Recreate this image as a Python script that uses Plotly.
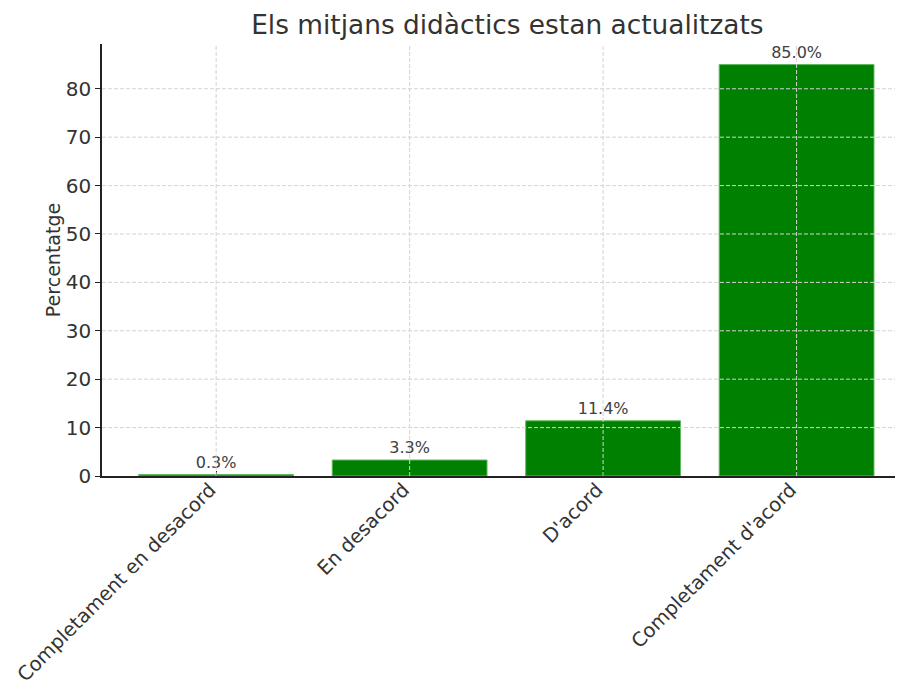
import plotly.graph_objects as go

categories = ["Completament en desacord", "En desacord", "D'acord", "Completament d'acord"]
percentages = [0.3, 3.3, 11.4, 85.0]
y_ticks = [0, 10, 20, 30, 40, 50, 60, 70, 80]

FONT = "DejaVu Sans"
GRID = "#d3d3d3"

fig = go.Figure(
    go.Bar(
        x=categories,
        y=percentages,
        width=0.8,
        marker=dict(color="#008000", line=dict(color="#5cb85c", width=1)),
        text=[f"{v:.1f}%" for v in percentages],
        textposition="outside",
        textfont=dict(family=FONT, size=16, color="#404040"),
        cliponaxis=False,
    )
)

# dashed grid drawn over the bars, as in the source
shapes = []
for c in categories:
    shapes.append(dict(type="line", xref="x", yref="paper", x0=c, x1=c, y0=0, y1=1,
                       line=dict(color=GRID, width=1, dash="4px,2px"), layer="above"))
for t in y_ticks[1:]:
    shapes.append(dict(type="line", xref="paper", yref="y", x0=0, x1=1, y0=t, y1=t,
                       line=dict(color=GRID, width=1, dash="4px,2px"), layer="above"))

# the page puts the figure 8px in from the top-left corner
fig.update_layout(
    width=903,
    height=682,
    margin=dict(l=94, r=8, t=36, b=214),
    paper_bgcolor="white",
    plot_bgcolor="white",
    showlegend=False,
    shapes=shapes,
    title=dict(text="Els mitjans didàctics estan actualitzats", x=0.553, xanchor="center",
               y=0.975, yanchor="middle",
               font=dict(family=FONT, size=26.4, color="#333333")),
    font=dict(family=FONT, color="#333333"),
)

fig.update_xaxes(
    range=[-0.59, 3.55],
    automargin=False,
    showgrid=False,
    showline=True, linecolor="#222222", linewidth=1.5,
    ticks="inside", ticklen=5, tickcolor="#222222",
    tickangle=-45,
    ticklabelstandoff=-7, ticklabelshift=-6,
    tickfont=dict(family=FONT, size=19.5, color="#333333"),
)
fig.update_yaxes(
    range=[0, 89.25],
    automargin=False,
    tickvals=y_ticks,
    showgrid=False,
    zeroline=False,
    showline=True, linecolor="#222222", linewidth=1.5,
    ticks="outside", ticklen=5, tickcolor="#222222",
    tickfont=dict(family=FONT, size=20, color="#333333"),
    title=dict(text="Percentatge", font=dict(family=FONT, size=19, color="#333333"), standoff=0),
)

fig.write_html("out.html")
